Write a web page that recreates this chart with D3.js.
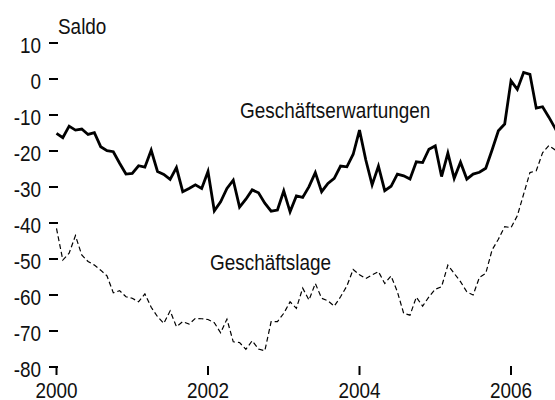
<!DOCTYPE html>
<html>
<head>
<meta charset="utf-8">
<script src="https://cdn.jsdelivr.net/npm/d3@7"></script>
<style>
  body { margin: 0; background: white; }
  svg { display: block; }
  text { font-family: "Liberation Sans", Arial, sans-serif; fill: #111; }
</style>
</head>
<body>
<div id="chart"></div>
<script>
// monthly values from Jan 2000
var startYear = 2000;

var erwartungen = [
  -15.1, -16.3, -13.1, -14.2, -13.9, -15.4, -14.9, -18.8, -19.9, -20.2, -23.4, -26.4,
  -26.2, -24.1, -24.5, -19.8, -25.7, -26.5, -27.9, -24.6, -31.3, -30.4, -29.4, -30.4,
  -25.7, -36.6, -34.1, -30.4, -28.1, -35.6, -33.4, -30.8, -31.6, -34.5, -36.7, -36.4,
  -31.1, -36.9, -32.5, -32.9, -29.9, -26.0, -31.3, -29.0, -27.6, -24.2, -24.4, -20.9,
  -14.2, -22.5, -29.4, -24.2, -31.0, -29.8, -26.4, -26.9, -27.8, -23.0, -23.2, -19.5,
  -18.6, -27.1, -20.6, -27.6, -23.1, -27.8, -26.4, -25.9, -24.8, -19.7, -14.4, -12.5,
  -0.5, -2.9, 1.8, 1.3, -8.1, -7.7, -10.6, -13.7, -17.0
];

var lage = [
  -41.5, -50.3, -48.4, -43.5, -48.9, -50.7, -51.7, -53.1, -54.7, -59.4, -58.8, -60.5,
  -60.9, -61.9, -59.7, -63.4, -66.0, -67.9, -64.4, -68.8, -67.4, -68.1, -66.5, -66.6,
  -66.8, -67.7, -70.5, -66.7, -73.0, -73.2, -75.1, -72.7, -75.0, -75.5, -67.4, -67.4,
  -65.1, -61.9, -63.7, -58.1, -61.4, -56.8, -60.9, -61.6, -63.1, -60.5, -57.5, -52.9,
  -54.4, -55.4, -54.4, -53.5, -56.8, -54.7, -59.1, -65.1, -65.6, -60.6, -63.1, -60.5,
  -58.4, -57.7, -51.7, -54.0, -56.3, -59.1, -60.0, -55.1, -54.0, -47.5, -44.5, -41.0,
  -41.3, -38.0, -32.0, -26.0, -25.5, -20.5, -18.5, -19.7, -21.0
];

var yTicks = [10, 0, -10, -20, -30, -40, -50, -60, -70, -80];
var xTicks = [2000, 2002, 2004, 2006];

var width = 555;
var height = 400;
var squeeze = 0.88; // glyphs in the picture are a little narrow

var svg = d3.select("#chart")
  .append("svg")
    .attr("width", width)
    .attr("height", height);

var x = d3.scaleLinear()
    .domain([2000, 2006])
    .range([56.5, 511]);

var y = d3.scaleLinear()
    .domain([-80, 10])
    .range([367, 43]);

function label(px, py, txt, anchor) {
  svg.append("g")
      .attr("transform", "translate(" + px + "," + py + ") scale(" + squeeze + ",1)")
    .append("text")
      .attr("text-anchor", anchor)
      .style("font-size", "21.5px")
      .text(txt);
}

// y ticks (no axis line, like base R plot with bty="n")
svg.selectAll(".ytick")
  .data(yTicks)
  .enter()
    .append("line")
      .attr("x1", 49)
      .attr("x2", 58)
      .attr("y1", function(d) { return y(d); })
      .attr("y2", function(d) { return y(d); })
      .attr("stroke", "#000")
      .attr("stroke-width", 2);

yTicks.forEach(function(d) {
  label(41, y(d) + 9.5, d, "end");
});

svg.selectAll(".xtick")
  .data(xTicks)
  .enter()
    .append("line")
      .attr("x1", function(d) { return x(d); })
      .attr("x2", function(d) { return x(d); })
      .attr("y1", 366)
      .attr("y2", 375)
      .attr("stroke", "#000")
      .attr("stroke-width", 2);

xTicks.forEach(function(d) {
  label(x(d), 398, d, "middle");
});

var line = d3.line()
    .x(function(d, i) { return x(startYear + i / 12); })
    .y(function(d) { return y(d); });

svg.append("path")
    .datum(lage)
    .attr("d", line)
    .attr("fill", "none")
    .attr("stroke", "#000")
    .attr("stroke-width", 1.2)
    .attr("stroke-dasharray", "5,3");

svg.append("path")
    .datum(erwartungen)
    .attr("d", line)
    .attr("fill", "none")
    .attr("stroke", "#000")
    .attr("stroke-width", 2.8)
    .attr("stroke-linejoin", "miter");

label(58, 33.5, "Saldo", "start");
label(240, 117.5, "Geschäftserwartungen", "start");
label(210, 269.5, "Geschäftslage", "start");
</script>
</body>
</html>
